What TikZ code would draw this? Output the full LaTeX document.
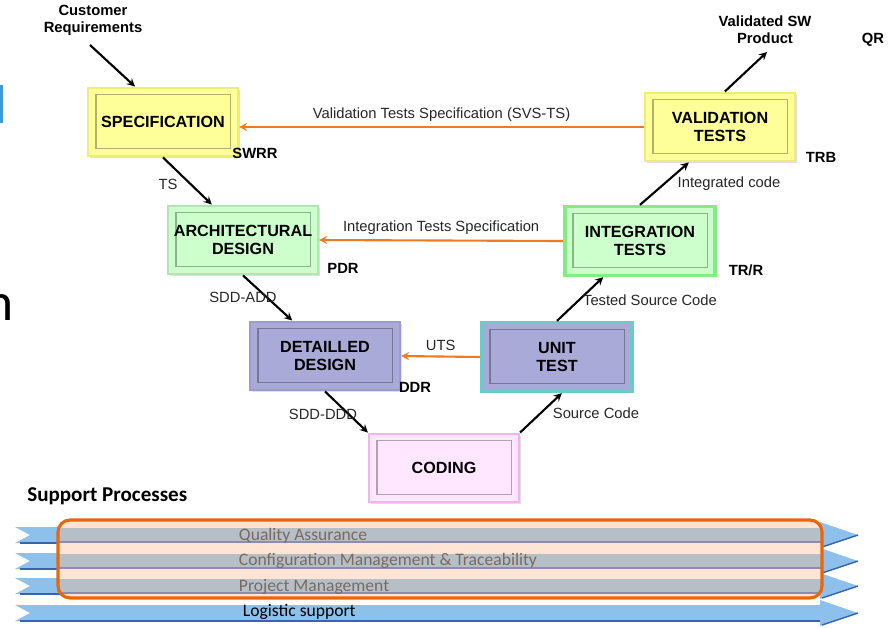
\documentclass[tikz,border=0pt]{standalone}
\usepackage{fontspec}
\setmainfont{Liberation Sans}
\newfontfamily\calibri{Carlito}
\usetikzlibrary{shadows}

\definecolor{giallo}{HTML}{FFFF99}
\definecolor{giallobordo}{HTML}{EDED7A}
\definecolor{verde}{HTML}{CCFFCC}
\definecolor{verdebordo}{HTML}{B4E4B4}
\definecolor{verdeforte}{HTML}{84EC84}
\definecolor{lilla}{HTML}{AAAAD8}
\definecolor{lillabordo}{HTML}{9C9CCC}
\definecolor{turchese}{HTML}{6CCACA}
\definecolor{rosa}{HTML}{FFE8FF}
\definecolor{rosabordo}{HTML}{F0B4F0}
\definecolor{arancio}{HTML}{F07A22}
\definecolor{aranciocornice}{HTML}{E8660C}
\definecolor{pesca}{HTML}{FDE4D4}
\definecolor{grigioriga}{HTML}{B6BFC6}
\definecolor{lineariga}{HTML}{8C8CB0}
\definecolor{bandablu}{HTML}{8DC0EA}
\definecolor{blusotto}{HTML}{3A62B4}
\definecolor{testoriga}{HTML}{7A6A60}
\definecolor{barrablu}{HTML}{3C9AD8}

\begin{document}
\begin{tikzpicture}[>=stealth, x=0.025cm, y=-0.025cm,
    fase/.style={minimum width=3.75cm, minimum height=1.72cm, align=center,
        font=\fontsize{11.5}{13}\selectfont\bfseries, line width=1.5pt,
        drop shadow={shadow xshift=0.05cm, shadow yshift=-0.05cm, opacity=0.25},
        path picture={\draw[black, opacity=0.3, line width=0.8pt]
            ([shift={(0.2cm,-0.18cm)}]path picture bounding box.north west) rectangle
            ([shift={(-0.18cm,0.2cm)}]path picture bounding box.south east);}},
    freccia/.style={->, line width=1.5pt},
    ritorno/.style={->, line width=1.5pt, arancio},
    etichetta/.style={font=\fontsize{10.5}{12}\selectfont, text=black!85},
    revisione/.style={font=\fontsize{10.5}{12}\selectfont\bfseries},
    riga/.style={anchor=west, font=\calibri\fontsize{12.5}{14}\selectfont, text=testoriga}]

    \useasboundingbox (0,0) rectangle (888,627);

    % Resti della diapositiva
    \fill[barrablu] (0,85) rectangle (3,123);
    \node[anchor=base west, inner sep=0pt, font=\calibri\fontsize{38}{40}\selectfont] (resto) at (-15,320) {n};

    % Fasi del ciclo a V
    \node[fase, fill=giallo, draw=giallobordo] (spec) at (163,122) {SPECIFICATION};
    \node[fase, fill=verde, draw=verdebordo] (arch) at (243,240) {ARCHITECTURAL\\DESIGN};
    \node[fase, fill=lilla, draw=lillabordo] (detd) at (325,356) {DETAILLED\\DESIGN};
    \node[fase, fill=rosa, draw=rosabordo] (coding) at (444,468) {CODING};
    \node[fase, fill=lilla, draw=turchese, line width=2.5pt] (unit) at (557,357) {UNIT\\TEST};
    \node[fase, fill=verde, draw=verdeforte, line width=2.5pt] (integ) at (640,241) {INTEGRATION\\TESTS};
    \node[fase, fill=giallo, draw=giallobordo] (valid) at (720,127) {VALIDATION\\TESTS};

    % Ingresso e uscita
    \node[align=center, font=\fontsize{10.5}{12}\selectfont\bfseries] (cr) at (93,20) {Customer\\Requirements};
    \coordinate (crin) at (90,45);
    \draw[freccia] (crin) -- ([xshift=-0.7cm]spec.north);
    \node[align=center, font=\fontsize{10.5}{12}\selectfont\bfseries] (vsw) at (765,30) {Validated SW\\Product};
    \coordinate (vswout) at (767,52);
    \draw[freccia] ([xshift=0.12cm]valid.north) -- (vswout);

    % Ramo discendente
    \draw[freccia] (spec.south) -- ([xshift=-0.78cm]arch.north);
    \draw[freccia] (arch.south) -- ([xshift=-0.82cm]detd.north);
    \draw[freccia] (detd.south) -- (coding.north west);

    % Ramo ascendente
    \draw[freccia] (coding.north east) -- ([xshift=0.12cm]unit.south);
    \draw[freccia] (unit.north) -- ([xshift=-0.92cm]integ.south);
    \draw[freccia] (integ.north) -- ([xshift=-0.78cm]valid.south);

    % Specifiche di test
    \draw[ritorno] (valid.west) -- (valid.west -| spec.east) node[midway, above, etichetta] {Validation Tests Specification (SVS-TS)};
    \draw[ritorno] (integ.west) -- (arch.east) node[midway, above, etichetta] {Integration Tests Specification};
    \draw[ritorno] (unit.west) -- (detd.east) node[midway, above, etichetta] {UTS};

    % Etichette dei passaggi
    \node[etichetta] (ts) at (168,184) {TS};
    \node[etichetta] (sddadd) at (243,297) {SDD-ADD};
    \node[etichetta] (sddddd) at (323,414) {SDD-DDD};
    \node[etichetta] (sc) at (596,413) {Source Code};
    \node[etichetta] (tsc) at (650,300) {Tested Source Code};
    \node[etichetta] (ic) at (729,184) {Integrated code};

    % Revisioni
    \node[revisione] (swrr) at (255,153) {SWRR};
    \node[revisione] (pdr) at (343,268) {PDR};
    \node[revisione] (ddr) at (415,387) {DDR};
    \node[revisione] (trr) at (746,270) {TR/R};
    \node[revisione] (trb) at (821,157) {TRB};
    \node[revisione] (qr) at (873,40) {QR};

    % Processi di supporto
    \node[anchor=west, inner sep=0pt, font=\calibri\fontsize{15}{17}\selectfont\bfseries] (sp) at (27,496) {Support Processes};
    \foreach \yc in {535,561,586,613} {
        \fill[bandablu] (15,\yc-8) -- (30,\yc) -- (15,\yc+8) -- (820,\yc+8) -- (820,\yc+13)
            -- (858,\yc) -- (820,\yc-13) -- (820,\yc-8) -- cycle;
        \draw[blusotto, line width=0.8pt] (20,\yc+8) -- (820,\yc+8);
        \draw[blusotto, line width=1pt] (822,\yc+12) -- (858,\yc);
    }
    \begin{scope}
        \clip[rounded corners=0.3cm] (58,520) rectangle (822,598);
        \fill[pesca] (58,520) rectangle (822,598);
        \foreach \yc in {535,561,586} {
            \fill[grigioriga] (58,\yc-7) rectangle (822,\yc+7);
            \draw[lineariga, line width=0.8pt] (58,\yc+7) -- (822,\yc+7);
        }
    \end{scope}
    \draw[aranciocornice, line width=2.2pt, rounded corners=0.3cm] (58,520) rectangle (822,598);
    \node[riga] (qa) at (234,536) {Quality Assurance};
    \node[riga] (cm) at (234,561) {Configuration Management \& Traceability};
    \node[riga] (pm) at (234,587) {Project Management};
    \node[riga, text=black] (ls) at (238,612) {Logistic support};
\end{tikzpicture}
\end{document}
